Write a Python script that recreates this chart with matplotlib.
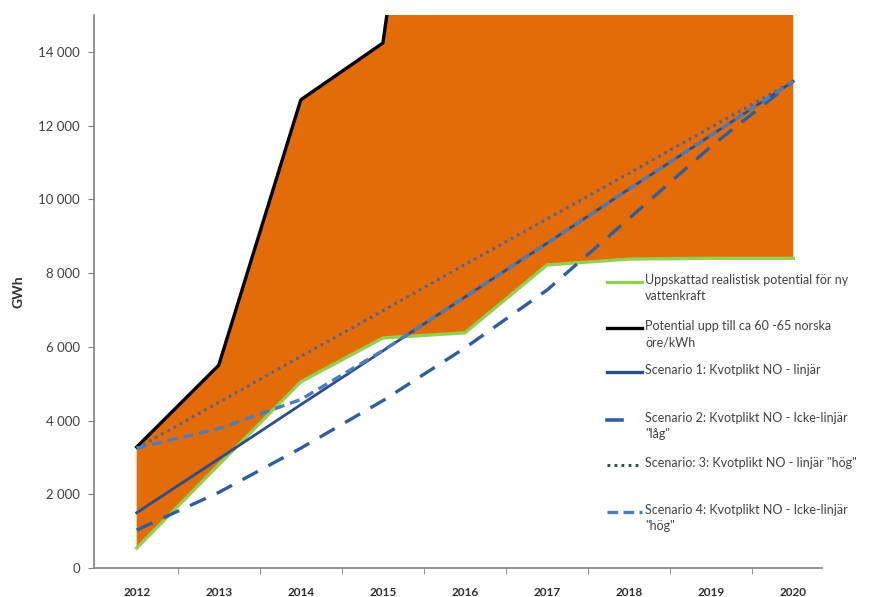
import numpy as np
import matplotlib.pyplot as plt
from matplotlib.lines import Line2D

plt.rcParams['font.family'] = ['Lato', 'DejaVu Sans']

# data (GWh)
years = ["2012", "2013", "2014", "2015", "2016", "2017", "2018", "2019", "2020"]
realistic = [540, 2800, 5050, 6240, 6380, 8220, 8380, 8400, 8400]
potential = [3280, 5500, 12700, 14240, 30000, 31000, 32000, 33000, 34000]
scen1 = [1500, 2960, 4430, 5890, 7350, 8810, 10280, 11740, 13200]
scen2 = [1030, 2050, 3250, 4540, 5970, 7540, 9480, 11440, 13200]
scen3 = [3250, 4490, 5740, 6980, 8230, 9470, 10710, 11960, 13200]
scen4 = [3250, 3780, 4570, 5900, 7350, 8810, 10280, 11740, 13200]

W, H = 885, 597
fig = plt.figure(figsize=(W / 100, H / 100), dpi=100)
ax = fig.add_axes([94 / W, 1 - 568 / H, (822 - 94) / W, (568 - 15) / H])

x = np.arange(len(years))
orange = "#E36C09"
green = "#92D050"
navy = "#2C4D8C"
blue2 = "#2F5E9F"
blue4 = "#4A7EBB"
dotc = "#4F6594"

ax.fill_between(x, realistic, potential, color=orange, lw=0, zorder=1)
ax.plot(x, realistic, color=green, lw=2.4, zorder=2)
ax.plot(x, potential, color="black", lw=2.4, zorder=3)
ax.plot(x, scen1, color=navy, lw=2.0, zorder=4)
ax.plot(x, scen2, color=blue2, lw=2.4, dashes=(5.2, 3.6), zorder=5)
ax.plot(x, scen3, color=dotc, lw=2.2, dashes=(0.9, 1.4), zorder=5)
ax.plot(x, scen4, color=blue4, lw=2.4, dashes=(3.0, 1.8), zorder=6)

ax.set_xlim(-0.52, len(years) - 0.65)
ax.set_ylim(0, 15000)
ax.set_yticks(range(0, 15000, 2000))
ax.set_yticklabels([f"{v:,}".replace(",", " ") for v in range(0, 15000, 2000)],
                   fontsize=9.5, color="#404040")
ax.set_xticks(x)
ax.set_xticklabels(years, fontsize=8.5, fontweight="bold", color="#303030")
ax.set_xticks(np.arange(0.5, len(years) - 1, 1), minor=True)
ax.tick_params(axis="x", which="major", length=0, pad=14)
ax.tick_params(axis="x", which="minor", length=4, color="#808080")
ax.tick_params(axis="y", length=4, color="#808080", pad=6)
for s in ["top", "right"]:
    ax.spines[s].set_visible(False)
for s in ["left", "bottom"]:
    ax.spines[s].set_color("#808080")
    ax.spines[s].set_linewidth(1.2)
ax.set_ylabel("GWh", fontsize=10, fontweight="bold", color="#303030", labelpad=10)

# legend drawn by hand to mimic the wrapped Excel legend
leg_items = [
    ("Uppskattad realistisk potential för ny\nvattenkraft", dict(color=green, lw=2.4), 282, 642),
    ("Potential upp till ca 60 -65 norska\nöre/kWh", dict(color="black", lw=2.4), 328, 642),
    ("Scenario 1: Kvotplikt NO - linjär", dict(color=navy, lw=2.4), 372, 642),
    ("Scenario 2: Kvotplikt NO - Icke-linjär\n\"låg\"", dict(color=blue2, lw=2.6), 420, 622),
    ("Scenario: 3: Kvotplikt NO - linjär \"hög\"", dict(color="#3A4660", lw=2.2, dashes=(0.9, 1.4)), 465, 642),
    ("Scenario 4: Kvotplikt NO - Icke-linjär\n\"hög\"", dict(color=blue4, lw=2.4, dashes=(3.2, 1.6)), 512, 642),
]
for label, style, yy, xe in leg_items:
    fig.add_artist(Line2D([607 / W, xe / W], [1 - yy / H, 1 - yy / H],
                          transform=fig.transFigure, **style))
    fig.text(645 / W, 1 - (yy - 8) / H, label, fontsize=9, color="#404040",
             va="top", ha="left", linespacing=1.45)

fig.savefig("out.png", dpi=100)
